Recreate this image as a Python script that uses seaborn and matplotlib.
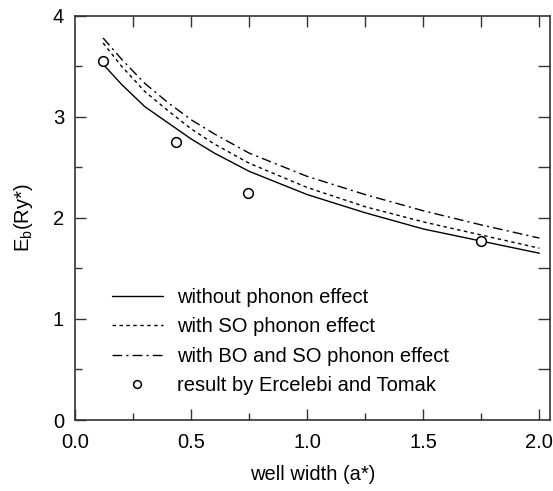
import matplotlib
matplotlib.use("Agg")
import matplotlib.pyplot as plt
import seaborn as sns
import numpy as np
import pandas as pd
from matplotlib.ticker import MultipleLocator, FixedLocator

# ---- data ----
well_width = [0.12, 0.2, 0.3, 0.4, 0.5, 0.6, 0.75, 1.0, 1.25, 1.5, 1.75, 2.0]
eb_without = [3.52, 3.32, 3.10, 2.94, 2.78, 2.64, 2.46, 2.23, 2.05, 1.89, 1.77, 1.65]
eb_so = [3.73, 3.50, 3.25, 3.06, 2.88, 2.73, 2.54, 2.30, 2.11, 1.96, 1.83, 1.70]
eb_bo_so = [3.78, 3.57, 3.33, 3.14, 2.97, 2.83, 2.64, 2.41, 2.23, 2.07, 1.93, 1.80]
ref_x = [0.12, 0.434, 0.746, 1.749]
ref_y = [3.55, 2.755, 2.25, 1.775]

labels = ["without phonon effect", "with SO phonon effect",
          "with BO and SO phonon effect", "result by Ercelebi and Tomak"]
xtick_labels = ["0.0", "0.5", "1.0", "1.5", "2.0"]
ytick_labels = ["0", "1", "2", "3", "4"]

sns.set_style("ticks")
plt.rcParams['font.family'] = ['Liberation Sans', 'DejaVu Sans']
plt.rcParams['text.color'] = 'black'
plt.rcParams['axes.labelcolor'] = 'black'
plt.rcParams['xtick.labelcolor'] = 'black'
plt.rcParams['ytick.labelcolor'] = 'black'

FS = 14.5

fig = plt.figure(figsize=(5.53, 4.91), dpi=100)
ax = fig.add_axes([0.136, 0.1446, 0.8586, 0.8234])

sns.lineplot(x=well_width, y=eb_without, ax=ax, color='black', lw=1.0,
             linestyle='-', label=labels[0])
sns.lineplot(x=well_width, y=eb_so, ax=ax, color='black', lw=1.0,
             linestyle=(0, (2.5, 2.5)), label=labels[1])
sns.lineplot(x=well_width, y=eb_bo_so, ax=ax, color='black', lw=1.0,
             linestyle=(0, (7, 3, 1.5, 3)), label=labels[2])
ax.plot(ref_x, ref_y, linestyle='none', marker='o', markersize=7,
        markerfacecolor='white', markeredgecolor='black', markeredgewidth=1.1,
        label=labels[3], zorder=5)

ax.set_xlim(0, 2.046)
ax.set_ylim(0, 4)
ax.set_xticks([0, 0.5, 1.0, 1.5, 2.0])
ax.set_xticklabels(xtick_labels)
ax.set_yticks([0, 1, 2, 3, 4])
ax.set_yticklabels(ytick_labels)
ax.xaxis.set_minor_locator(MultipleLocator(0.25))
ax.yaxis.set_minor_locator(MultipleLocator(0.5))
ax.tick_params(which='major', direction='in', length=8, width=1, color='#333333',
               labelsize=FS, top=False, right=False)
ax.tick_params(axis='x', which='major', pad=9)
ax.tick_params(axis='y', which='major', pad=8)
ax.tick_params(which='minor', direction='in', length=5, width=1, color='#333333',
               top=False, right=False)

secx = ax.secondary_xaxis('top')
secx.set_xticks(np.arange(0.25, 2.01, 0.25))
secx.tick_params(direction='in', length=8, width=1, color='#333333', labeltop=False)
secx.spines['top'].set_visible(False)
secy = ax.secondary_yaxis('right')
secy.set_yticks(np.arange(0.5, 3.51, 0.5))
secy.tick_params(direction='in', length=9, width=1, color='#333333', labelright=False)
secy.spines['right'].set_visible(False)

for s in ax.spines.values():
    s.set_color('#333333')
    s.set_linewidth(1.2)

ax.set_xlabel("well width (a*)", fontsize=FS, labelpad=10)
ax.set_ylabel("E$_\\mathregular{b}$(Ry*)", fontsize=FS, labelpad=13)

leg = ax.legend(loc='upper left', bbox_to_anchor=(0.04, 0.372), frameon=False,
                fontsize=FS, handlelength=2.5, handletextpad=0.7,
                labelspacing=0.52, markerscale=0.8)

fig.savefig("out.png", dpi=100)
